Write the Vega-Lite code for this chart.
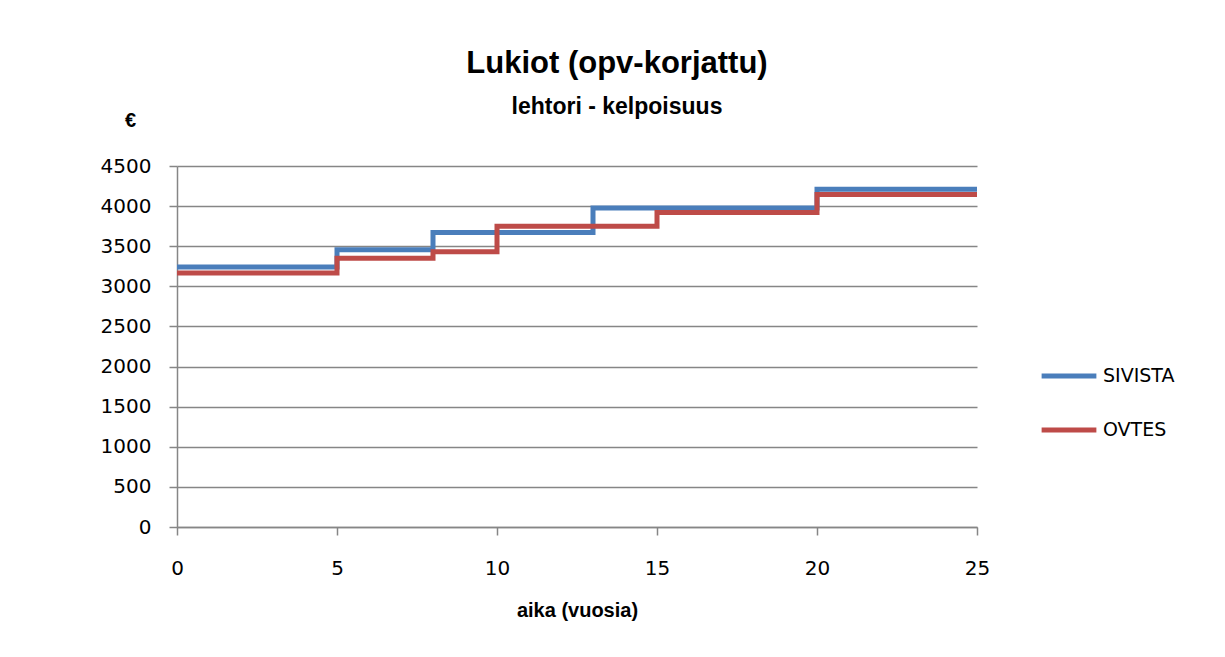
{
  "$schema": "https://vega.github.io/schema/vega-lite/v6.json",
  "autosize": "none",
  "width": 800,
  "height": 361,
  "padding": {"left": 177, "top": 166, "right": 248, "bottom": 130},
  "background": "white",
  "title": {
    "text": "Lukiot (opv-korjattu)",
    "subtitle": "lehtori - kelpoisuus",
    "font": "Liberation Sans",
    "fontSize": 31,
    "fontWeight": "bold",
    "color": "#000000",
    "subtitleFont": "Liberation Sans",
    "subtitleFontSize": 23,
    "subtitleFontWeight": "bold",
    "subtitleColor": "#000000",
    "subtitlePadding": 16,
    "anchor": "middle",
    "frame": "group",
    "dx": 40,
    "offset": -10
  },
  "data": {
    "values": [
      {"aika": 0, "palkka": 3240, "sarja": "SIVISTA"},
      {"aika": 5, "palkka": 3455, "sarja": "SIVISTA"},
      {"aika": 8, "palkka": 3670, "sarja": "SIVISTA"},
      {"aika": 13, "palkka": 3975, "sarja": "SIVISTA"},
      {"aika": 20, "palkka": 4210, "sarja": "SIVISTA"},
      {"aika": 25, "palkka": 4210, "sarja": "SIVISTA"},
      {"aika": 0, "palkka": 3165, "sarja": "OVTES"},
      {"aika": 5, "palkka": 3350, "sarja": "OVTES"},
      {"aika": 8, "palkka": 3430, "sarja": "OVTES"},
      {"aika": 10, "palkka": 3750, "sarja": "OVTES"},
      {"aika": 15, "palkka": 3920, "sarja": "OVTES"},
      {"aika": 20, "palkka": 4145, "sarja": "OVTES"},
      {"aika": 25, "palkka": 4145, "sarja": "OVTES"}
    ]
  },
  "mark": {"type": "line", "interpolate": "step-after", "strokeWidth": 5},
  "encoding": {
    "x": {
      "field": "aika",
      "type": "quantitative",
      "scale": {"domain": [0, 25], "nice": false},
      "axis": {
        "values": [0, 5, 10, 15, 20, 25],
        "format": "d",
        "labelFlush": false,
        "title": "aika (vuosia)",
        "titleFont": "Liberation Sans",
        "titleFontSize": 20,
        "titleFontWeight": "bold",
        "titleColor": "#000000",
        "titlePadding": 22,
        "labelFont": "DejaVu Sans",
        "labelFontSize": 20,
        "labelColor": "#000000",
        "labelPadding": 23,
        "grid": false,
        "domainColor": "#868686",
        "domainWidth": 1.5,
        "tickColor": "#868686",
        "tickSize": 8,
        "tickWidth": 1.5
      }
    },
    "y": {
      "field": "palkka",
      "type": "quantitative",
      "scale": {"domain": [0, 4500], "nice": false},
      "axis": {
        "values": [0, 500, 1000, 1500, 2000, 2500, 3000, 3500, 4000, 4500],
        "format": "d",
        "title": "€",
        "titleAngle": 0,
        "titleX": -47,
        "titleY": -40,
        "titleAlign": "center",
        "titleBaseline": "alphabetic",
        "titleFont": "Liberation Sans",
        "titleFontSize": 20,
        "titleFontWeight": "bold",
        "titleColor": "#000000",
        "labelFont": "DejaVu Sans",
        "labelFontSize": 20,
        "labelColor": "#000000",
        "labelPadding": 18,
        "gridColor": "#868686",
        "gridWidth": 1.5,
        "domainColor": "#868686",
        "domainWidth": 1.5,
        "tickColor": "#868686",
        "tickSize": 8,
        "tickWidth": 1.5
      }
    },
    "color": {
      "field": "sarja",
      "type": "nominal",
      "scale": {"domain": ["SIVISTA", "OVTES"], "range": ["#4a7ebb", "#be4b48"]},
      "legend": {
        "title": null,
        "orient": "none",
        "legendX": 862,
        "legendY": 180,
        "symbolType": "stroke",
        "symbolSize": 3000,
        "symbolStrokeWidth": 5,
        "rowPadding": 14,
        "labelFont": "DejaVu Sans",
        "labelFontSize": 19,
        "labelColor": "#000000",
        "labelOffset": 4
      }
    }
  },
  "config": {"view": {"stroke": null}}
}
